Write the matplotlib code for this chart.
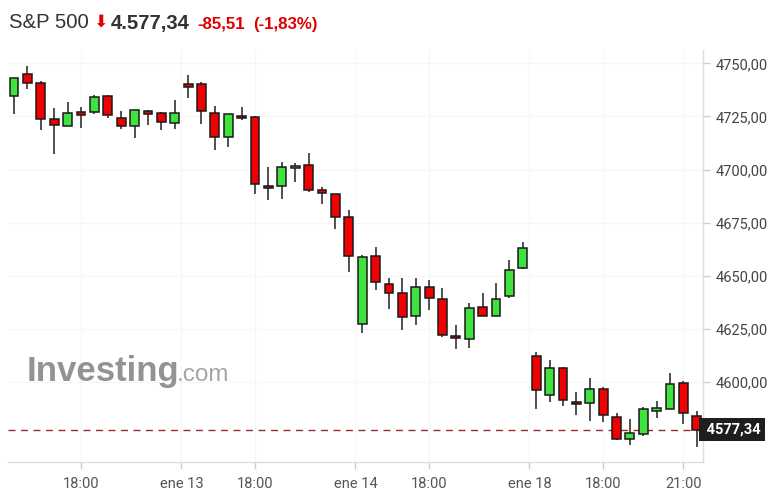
import numpy as np
import matplotlib
matplotlib.use("Agg")
import matplotlib.pyplot as plt
from matplotlib import transforms

W, H = 782, 501

# 30-min candles, S&P 500 (ene 12 15:30 -> ene 18 21:30), cash session only
opens = [4734.7, 4744.8, 4740.7, 4723.6, 4720.6, 4727.2, 4727.1, 4734.7, 4724.2, 4720.6,
         4727.7, 4726.4, 4721.7, 4740.1, 4740.1, 4726.4, 4715.3, 4725.3, 4724.7, 4692.3,
         4692.3, 4700.5, 4702.0, 4690.2, 4688.4, 4677.7, 4627.1, 4659.4, 4645.9, 4641.7,
         4631.1, 4644.8, 4638.8, 4621.7, 4620.0, 4635.4, 4631.0, 4640.4, 4653.4, 4612.3,
         4593.9, 4606.6, 4590.6, 4589.8, 4596.4, 4583.4, 4573.2, 4575.4, 4586.2, 4587.3,
         4599.3, 4584.0]
highs = [4743.0, 4748.7, 4741.7, 4728.8, 4731.6, 4729.4, 4735.1, 4735.0, 4727.5, 4728.1,
         4728.0, 4727.2, 4732.7, 4744.5, 4741.0, 4729.9, 4726.2, 4729.3, 4725.0, 4701.0,
         4703.6, 4702.9, 4707.9, 4691.6, 4688.6, 4680.9, 4659.7, 4663.3, 4648.7, 4648.7,
         4648.7, 4647.9, 4644.0, 4626.7, 4636.9, 4641.7, 4646.4, 4657.3, 4665.7, 4613.9,
         4610.2, 4606.8, 4595.0, 4601.6, 4597.4, 4585.1, 4582.6, 4587.9, 4590.9, 4604.0,
         4600.5, 4586.2]
lows = [4726.0, 4737.8, 4718.4, 4707.3, 4720.3, 4719.7, 4726.3, 4724.1, 4719.1, 4715.0,
        4720.8, 4718.4, 4719.1, 4733.5, 4721.3, 4709.0, 4710.6, 4723.2, 4688.3, 4685.5,
        4686.1, 4694.2, 4689.4, 4683.6, 4671.8, 4651.8, 4622.8, 4643.2, 4634.1, 4624.4,
        4626.7, 4633.8, 4621.2, 4615.3, 4615.8, 4630.8, 4630.8, 4639.6, 4653.2, 4587.0,
        4590.5, 4588.7, 4584.2, 4581.7, 4581.2, 4572.7, 4570.1, 4574.4, 4582.8, 4587.1,
        4580.1, 4569.1]
closes = [4742.9, 4740.6, 4723.6, 4721.1, 4726.4, 4725.8, 4734.3, 4725.8, 4720.6, 4727.9,
          4726.0, 4722.4, 4726.4, 4738.7, 4727.5, 4715.3, 4726.0, 4724.1, 4693.0, 4691.1,
          4701.2, 4701.8, 4690.5, 4688.8, 4677.6, 4659.2, 4658.9, 4647.0, 4641.7, 4630.5,
          4644.8, 4639.3, 4622.2, 4620.5, 4634.7, 4631.0, 4638.8, 4652.5, 4663.0, 4596.3,
          4606.6, 4591.5, 4589.4, 4596.4, 4584.2, 4572.9, 4575.7, 4587.0, 4587.5, 4598.8,
          4585.1, 4577.34]

tick_pos = [5, 12.5, 18, 25.5, 31, 38.5, 44, 50]
tick_labels = ["18:00", "ene 13", "18:00", "ene 14", "18:00", "ene 18", "18:00", "21:00"]
y_ticks = [4600, 4625, 4650, 4675, 4700, 4725, 4750]
last_price = 4577.34

o = np.array(opens)
h = np.array(highs)
l = np.array(lows)
c = np.array(closes)
x = np.arange(len(o))
up = c >= o
body_col = np.where(up, "#3fe23f", "#f00000")

fig = plt.figure(figsize=(W / 100, H / 100), dpi=100)
ax = fig.add_axes([7.5 / W, 1 - 462 / H, (703 - 7.5) / W, (462 - 50) / H])

ax.vlines(x, l, h, color="#505050", lw=1.4, zorder=3)
ax.bar(x, np.abs(c - o), bottom=np.minimum(o, c), width=0.66,
       color=body_col, edgecolor="#1a1a1a", linewidth=1.1, zorder=4)

ax.axhline(last_price, color="#9b2a2a", lw=1, ls=(0, (5, 4)), zorder=2)

ax.set_xlim(-0.49, 51.46)
ax.set_ylim(4562.2, 4756.3)

ax.set_xticks(tick_pos)
ax.set_xticklabels(tick_labels)
ax.set_yticks(y_ticks)
ax.set_yticklabels([f"{v:.2f}".replace(".", ",") for v in y_ticks])
ax.yaxis.tick_right()

for s in ["left", "top"]:
    ax.spines[s].set_visible(False)
for s in ["right", "bottom"]:
    ax.spines[s].set_color("#dddddd")
    ax.spines[s].set_linewidth(1)

ax.tick_params(axis="both", colors="#cccccc", length=5, width=1,
               labelsize=10.5, labelcolor="#444444")
ax.tick_params(axis="y", pad=4)
ax.tick_params(axis="x", pad=6)
for t in ax.get_xticklabels() + ax.get_yticklabels():
    t.set_fontfamily("Roboto")
for t in ax.get_xticklabels():
    t.set_color("#555555")

ax.grid(True, color="#f6f6f6", lw=0.8, zorder=0)

# watermark
fig.text(27 / W, 1 - 381 / H, "Investing", fontsize=25, fontweight="bold",
         family="Liberation Sans", color="#939393", zorder=0)
fig.text(177 / W, 1 - 381 / H, ".com", fontsize=17.5, family="Liberation Sans",
         color="#a6a6a6", zorder=0)

# current price tag
trans = transforms.blended_transform_factory(ax.transAxes, ax.transData)
ax.text(1.0, last_price, " 4577,34", transform=trans, ha="left", va="center",
        fontsize=10.5, fontweight="bold", color="white", family="Roboto",
        bbox=dict(boxstyle="square,pad=0.3", fc="#1e1e1e", ec="none"),
        clip_on=False, zorder=6)

# header
base = 1 - 28.5 / H
fig.text(9 / W, base, "S&P 500", fontsize=14.6, family="Liberation Sans",
         color="#333333", va="baseline")
fig.text(93 / W, base + 2 / H, "\u2b07", fontsize=12.5, family="DejaVu Sans",
         color="#e00000", va="baseline")
fig.text(111 / W, base, "4.577,34", fontsize=14.6, family="Liberation Sans",
         fontweight="bold", color="#333333", va="baseline")
fig.text(197 / W, base, "-85,51", fontsize=12.2, family="Liberation Sans",
         fontweight="bold", color="#e00000", va="baseline")
fig.text(253 / W, base, "(-1,83%)", fontsize=12.2, family="Liberation Sans",
         fontweight="bold", color="#e00000", va="baseline")

fig.savefig("out.png", dpi=100)
